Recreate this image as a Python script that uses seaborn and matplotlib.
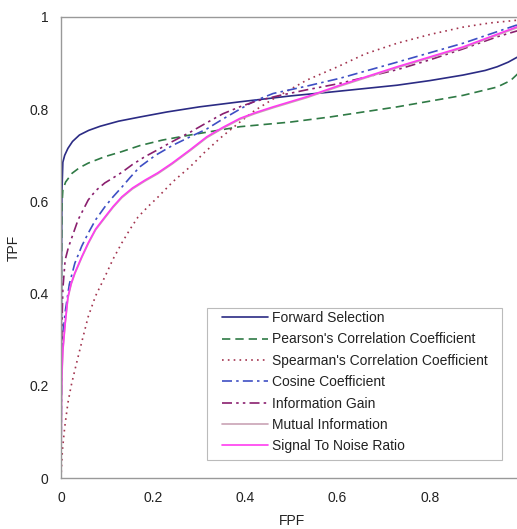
import pandas as pd
import seaborn as sns
import matplotlib
matplotlib.use("Agg")
import matplotlib.pyplot as plt
from matplotlib.patches import Rectangle

# ROC curve points (FPF, TPF)
fs_x = [0, 0.001, 0.002, 0.004, 0.008, 0.015, 0.025, 0.04, 0.06, 0.085, 0.125, 0.171, 0.23, 0.3, 0.388, 0.5, 0.583, 0.729, 0.8, 0.872, 0.92, 0.946, 0.97, 0.99, 1.0]
fs_y = [0, 0.45, 0.62, 0.685, 0.7, 0.715, 0.73, 0.744, 0.754, 0.763, 0.774, 0.783, 0.794, 0.805, 0.816, 0.829, 0.837, 0.852, 0.862, 0.874, 0.884, 0.892, 0.902, 0.913, 0.922]

pc_x = [0, 0.001, 0.002, 0.004, 0.01, 0.024, 0.04, 0.059, 0.095, 0.132, 0.171, 0.22, 0.28, 0.388, 0.497, 0.583, 0.729, 0.872, 0.946, 0.975, 0.99, 1.0]
pc_y = [0, 0.45, 0.59, 0.625, 0.642, 0.661, 0.673, 0.683, 0.697, 0.708, 0.721, 0.733, 0.744, 0.762, 0.772, 0.783, 0.805, 0.83, 0.848, 0.862, 0.876, 0.89]

sp_x = [0, 0.003, 0.008, 0.015, 0.022, 0.03, 0.045, 0.059, 0.075, 0.095, 0.113, 0.132, 0.15, 0.167, 0.19, 0.208, 0.243, 0.28, 0.31, 0.345, 0.388, 0.42, 0.46, 0.533, 0.6, 0.66, 0.729, 0.8, 0.872, 0.93, 0.99, 1.0]
sp_y = [0, 0.06, 0.11, 0.163, 0.2, 0.234, 0.295, 0.35, 0.395, 0.436, 0.475, 0.51, 0.54, 0.566, 0.59, 0.607, 0.643, 0.675, 0.705, 0.737, 0.772, 0.797, 0.822, 0.863, 0.892, 0.92, 0.943, 0.962, 0.978, 0.987, 0.993, 0.995]

cc_x = [0, 0.001, 0.002, 0.004, 0.009, 0.018, 0.03, 0.045, 0.059, 0.075, 0.095, 0.113, 0.132, 0.15, 0.171, 0.205, 0.243, 0.28, 0.316, 0.35, 0.388, 0.42, 0.46, 0.533, 0.605, 0.729, 0.872, 0.99, 1.0]
cc_y = [0, 0.2, 0.26, 0.31, 0.36, 0.42, 0.466, 0.503, 0.531, 0.56, 0.588, 0.61, 0.631, 0.652, 0.675, 0.7, 0.722, 0.74, 0.757, 0.778, 0.8, 0.818, 0.834, 0.85, 0.867, 0.902, 0.943, 0.983, 0.99]

ig_x = [0, 0.001, 0.002, 0.004, 0.009, 0.016, 0.024, 0.037, 0.059, 0.075, 0.095, 0.113, 0.132, 0.155, 0.182, 0.208, 0.24, 0.28, 0.315, 0.351, 0.39, 0.425, 0.475, 0.533, 0.6, 0.655, 0.73, 0.8, 0.87, 0.946, 0.99, 1.0]
ig_y = [0, 0.25, 0.33, 0.41, 0.473, 0.5, 0.523, 0.56, 0.603, 0.623, 0.64, 0.651, 0.663, 0.68, 0.697, 0.711, 0.729, 0.75, 0.77, 0.79, 0.806, 0.818, 0.83, 0.842, 0.855, 0.868, 0.886, 0.907, 0.93, 0.957, 0.97, 0.975]

mi_x = [0, 0.001, 0.002, 0.004, 0.009, 0.015, 0.022, 0.03, 0.045, 0.059, 0.075, 0.095, 0.113, 0.132, 0.155, 0.182, 0.21, 0.241, 0.28, 0.316, 0.35, 0.388, 0.42, 0.46, 0.533, 0.605, 0.729, 0.872, 0.99, 1.0]
mi_y = [0, 0.17, 0.22, 0.275, 0.334, 0.39, 0.42, 0.443, 0.478, 0.508, 0.538, 0.564, 0.587, 0.608, 0.627, 0.644, 0.66, 0.681, 0.71, 0.738, 0.758, 0.778, 0.79, 0.803, 0.825, 0.85, 0.89, 0.933, 0.977, 0.98]

snr_x = [0, 0.001, 0.002, 0.004, 0.009, 0.015, 0.022, 0.03, 0.045, 0.059, 0.075, 0.095, 0.113, 0.132, 0.155, 0.182, 0.21, 0.241, 0.28, 0.316, 0.35, 0.388, 0.42, 0.46, 0.533, 0.605, 0.729, 0.872, 0.99, 1.0]
snr_y = [0, 0.18, 0.23, 0.278, 0.336, 0.393, 0.422, 0.445, 0.48, 0.51, 0.54, 0.566, 0.589, 0.61, 0.629, 0.646, 0.662, 0.683, 0.712, 0.74, 0.76, 0.78, 0.792, 0.805, 0.827, 0.852, 0.892, 0.935, 0.979, 0.982]

names = ["Forward Selection", "Pearson's Correlation Coefficient",
         "Spearman's Correlation Coefficient", "Cosine Coefficient",
         "Information Gain", "Mutual Information", "Signal To Noise Ratio"]
xs = [fs_x, pc_x, sp_x, cc_x, ig_x, mi_x, snr_x]
ys = [fs_y, pc_y, sp_y, cc_y, ig_y, mi_y, snr_y]
colors = ["#2b2b84", "#2f7a45", "#a3344f", "#3e4fc4", "#8a1f6e", "#c9a3b5", "#ff3cf0"]
styles = ["-", (0, (5, 3)), (0, (1, 2.5)), (0, (6, 2.5, 1.5, 2.5)),
          (0, (6, 2.5, 1.5, 2.5, 1.5, 2.5)), "-", "-"]

xtick_vals = [0, 0.2, 0.4, 0.6, 0.8]
xtick_labels = ["0", "0.2", "0.4", "0.6", "0.8"]
ytick_vals = [0, 0.2, 0.4, 0.6, 0.8, 1.0]
ytick_labels = ["0", "0.2", "0.4", "0.6", "0.8", "1"]

sns.set_style("white")
plt.rcParams['font.family'] = ['Liberation Sans', 'DejaVu Sans']

fig = plt.figure(figsize=(5.17, 5.29), dpi=100)
ax = fig.add_axes([0.118, 0.0964, 0.8917, 0.8715])

for name, x, y, c, ls in zip(names, xs, ys, colors, styles):
    df = pd.DataFrame({"FPF": x, "TPF": y})
    sns.lineplot(data=df, x="FPF", y="TPF", ax=ax, color=c, linestyle=ls,
                 linewidth=1.2, estimator=None, sort=False, label=name)

ax.set_xlim(0, 1)
ax.set_ylim(0, 1)
ax.set_xticks(xtick_vals)
ax.set_xticklabels(xtick_labels)
ax.set_yticks(ytick_vals)
ax.set_yticklabels(ytick_labels)
ax.tick_params(direction="in", length=4, color="#999999", labelsize=10, pad=9,
               labelcolor="#222222")
ax.set_xlabel("FPF", fontsize=10, labelpad=7, color="#222222")
ax.set_ylabel("TPF", fontsize=10, color="#222222")
ax.yaxis.set_label_coords(-0.087, 0.5)
for sp in ax.spines.values():
    sp.set_color("#999999")
    sp.set_linewidth(1.0)

# legend box drawn separately so the padding matches the original
ax.add_patch(Rectangle((0.317, 0.039), 0.64, 0.33, transform=ax.transAxes,
                       facecolor="white", edgecolor="#bbbbbb", linewidth=0.8,
                       zorder=4))
leg = ax.legend(loc="upper left", bbox_to_anchor=(0.349, 0.362), fontsize=10,
                frameon=False, handlelength=3.3, handletextpad=0.3,
                labelspacing=0.53, borderpad=0, borderaxespad=0)
leg.set_zorder(5)
for t in leg.get_texts():
    t.set_color("#222222")

fig.savefig("out.png", dpi=100)
